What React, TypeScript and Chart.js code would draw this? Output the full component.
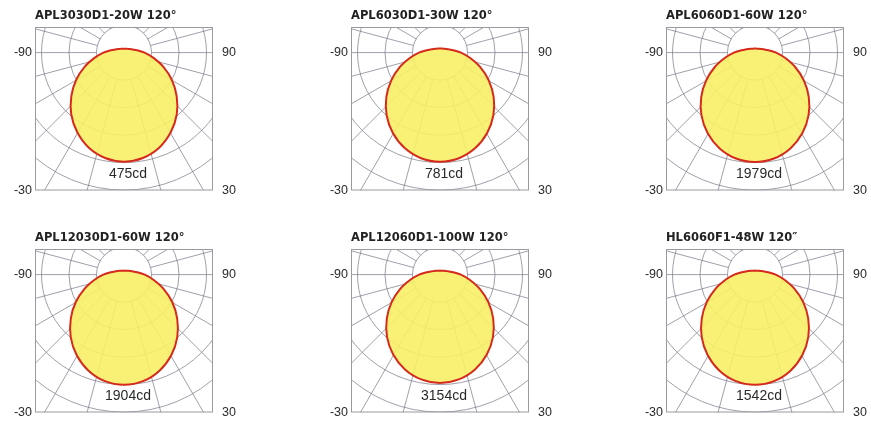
import React, { useEffect, useRef } from 'react';
import { Chart, registerables } from 'chart.js';

Chart.register(...registerables);

// ---------- data ----------
const titles = [
  'APL3030D1-20W 120°',
  'APL6030D1-30W 120°',
  'APL6060D1-60W 120°',
  'APL12030D1-60W 120°',
  'APL12060D1-100W 120°',
  'HL6060F1-48W 120″',
];

// gamma angles (deg) of the half profile; the curve is symmetric about 0°
const angles = [0, 10, 20, 30, 40, 50, 60, 70, 80, 90, 100, 110, 120, 135, 150, 180];

const cdAPL3030 = [475, 466, 441, 401, 352, 295, 237, 179, 127, 88, 57, 40, 31, 23, 19, 17];
const cdAPL6030 = [781, 768, 728, 665, 586, 494, 397, 301, 214, 148, 96, 68, 52, 39, 33, 29];
const cdAPL6060 = [1979, 1945, 1844, 1686, 1484, 1251, 1005, 762, 542, 376, 243, 172, 131, 99, 83, 73];
const cdAPL12030 = [1904, 1870, 1767, 1609, 1411, 1182, 948, 716, 508, 352, 228, 162, 124, 93, 78, 69];
const cdAPL12060 = [3154, 3100, 2940, 2687, 2366, 1993, 1602, 1214, 864, 599, 388, 274, 208, 158, 132, 117];
const cdHL6060 = [1542, 1514, 1431, 1303, 1143, 958, 768, 580, 412, 285, 185, 131, 100, 76, 63, 56];

const series = [cdAPL3030, cdAPL6030, cdAPL6060, cdAPL12030, cdAPL12060, cdHL6060];

// candela value of one grid ring in each diagram
const ringCd = [118, 194, 490, 468, 789, 379];

const leftLabels = ['-90', '-30'];
const rightLabels = ['90', '30'];

// ---------- layout ----------
const RING_PX = 27.5;
const BOX_W = 178;
const BOX_H = 166;
const CENTER_FROM_TOP = 26;
const AXIS_W = 35;
const CANVAS_W = AXIS_W * 2 + BOX_W;
const CANVAS_H = 27 + BOX_H + 14;
const boxLefts = [35, 351, 666];
const boxTops = [27, 249];

const polarGrid = {
  id: 'polarGrid',
  beforeDatasetsDraw(chart: any, _args: any, opts: any) {
    const { ctx, chartArea: a, scales } = chart;
    const x = scales.x;
    const y = scales.y;
    const step = opts.ringCd;
    const cx = x.getPixelForValue(0);
    const cy = y.getPixelForValue(0);
    const pr = x.getPixelForValue(step) - cx;
    ctx.save();
    ctx.beginPath();
    ctx.rect(a.left, a.top, a.right - a.left, a.bottom - a.top);
    ctx.clip();
    ctx.lineWidth = 1;
    ctx.strokeStyle = 'rgba(120,120,135,0.7)';
    for (let k = 1; k <= 7; k++) {
      ctx.beginPath();
      ctx.arc(cx, cy, k * pr, 0, Math.PI * 2);
      ctx.stroke();
    }
    for (let deg = -165; deg <= 180; deg += 15) {
      if (deg === 0) continue;
      const t = (deg * Math.PI) / 180;
      const dx = Math.sin(t);
      const dy = Math.cos(t);
      ctx.beginPath();
      ctx.moveTo(cx + dx * pr, cy + dy * pr);
      ctx.lineTo(cx + dx * pr * 9, cy + dy * pr * 9);
      ctx.stroke();
    }
    ctx.restore();
    ctx.save();
    ctx.strokeStyle = '#9a9aa0';
    ctx.lineWidth = 1;
    ctx.strokeRect(a.left + 0.5, a.top + 0.5, a.right - a.left - 1, a.bottom - a.top - 1);
    ctx.restore();
  },
  afterDatasetsDraw(chart: any, _args: any, opts: any) {
    const { ctx, scales } = chart;
    const px = scales.x.getPixelForValue(0) + 4;
    const py = scales.y.getPixelForValue(-opts.ringCd * (123 / RING_PX));
    ctx.save();
    ctx.font = '14px "Liberation Sans", Arial, sans-serif';
    ctx.fillStyle = '#2a2a2a';
    ctx.textAlign = 'center';
    ctx.textBaseline = 'middle';
    ctx.fillText(opts.label, px, py);
    ctx.restore();
  },
};

function buildCurve(vals: number[]) {
  const pts: { x: number; y: number }[] = [];
  const push = (deg: number, v: number) => {
    const t = (deg * Math.PI) / 180;
    pts.push({ x: v * Math.sin(t), y: -v * Math.cos(t) });
  };
  for (let i = angles.length - 1; i >= 1; i--) push(-angles[i], vals[i]);
  for (let i = 0; i < angles.length; i++) push(angles[i], vals[i]);
  return pts;
}

function Diagram({ idx }: { idx: number }) {
  const ref = useRef<HTMLCanvasElement>(null);
  useEffect(() => {
    const step = ringCd[idx];
    const halfW = (BOX_W / 2 / RING_PX) * step;
    const yMax = (CENTER_FROM_TOP / RING_PX) * step;
    const yMin = -((BOX_H - CENTER_FROM_TOP) / RING_PX) * step;
    const tickFont = { family: '"Liberation Sans", Arial, sans-serif', size: 12.5 };
    const chart = new Chart(ref.current!, {
      type: 'scatter',
      data: {
        datasets: [
          {
            data: buildCurve(series[idx]),
            xAxisID: 'x',
            yAxisID: 'y',
            showLine: true,
            fill: 'shape',
            borderColor: '#d52a1c',
            borderWidth: 2,
            backgroundColor: 'rgba(247,239,102,0.9)',
            pointRadius: 0,
            tension: 0.35,
          } as any,
        ],
      },
      options: {
        responsive: false,
        maintainAspectRatio: false,
        devicePixelRatio: 1,
        animation: false,
        events: [],
        layout: { padding: { left: 0, right: 0, top: 0, bottom: CANVAS_H - 27 - BOX_H } },
        scales: {
          x: { type: 'linear', display: false, min: -halfW, max: halfW },
          y: {
            type: 'linear',
            position: 'left',
            min: yMin,
            max: yMax,
            grid: { display: false, drawTicks: false },
            border: { display: false },
            afterBuildTicks: (s: any) => {
              s.ticks = [{ value: 0 }, { value: s.min }];
            },
            afterFit: (s: any) => {
              s.width = AXIS_W;
            },
            ticks: {
              padding: 3,
              font: tickFont,
              color: '#2a2a2a',
              callback: (_v: any, i: number) => leftLabels[i],
            },
          },
          yR: {
            type: 'linear',
            position: 'right',
            min: yMin,
            max: yMax,
            grid: { display: false, drawTicks: false },
            border: { display: false },
            afterBuildTicks: (s: any) => {
              s.ticks = [{ value: 0 }, { value: s.min }];
            },
            afterFit: (s: any) => {
              s.width = AXIS_W;
            },
            ticks: {
              padding: 9,
              font: tickFont,
              color: '#2a2a2a',
              callback: (_v: any, i: number) => rightLabels[i],
            },
          },
        } as any,
        plugins: {
          legend: { display: false },
          tooltip: { enabled: false },
          title: {
            display: true,
            text: titles[idx],
            align: 'start',
            fullSize: false,
            color: '#222',
            font: { family: '"DejaVu Sans", sans-serif', size: 11.5, weight: 'bold', lineHeight: 1.2 },
            padding: { top: 9.6, bottom: 27 - 9.6 - 13.8 },
          },
          polarGrid: { ringCd: step, label: `${series[idx][0]}cd` },
        } as any,
      },
      plugins: [polarGrid],
    });
    return () => chart.destroy();
  }, [idx]);

  const col = idx % 3;
  const row = Math.floor(idx / 3);
  return (
    <canvas
      ref={ref}
      width={CANVAS_W}
      height={CANVAS_H}
      style={{
        position: 'absolute',
        left: boxLefts[col] - AXIS_W,
        top: boxTops[row] - 27,
        width: CANVAS_W,
        height: CANVAS_H,
      }}
    />
  );
}

export default function App() {
  return (
    <div
      style={{
        position: 'absolute',
        left: 0,
        top: 0,
        width: 871,
        height: 427,
        overflow: 'hidden',
        background: '#fff',
      }}
    >
      {titles.map((_, i) => (
        <Diagram key={i} idx={i} />
      ))}
    </div>
  );
}
